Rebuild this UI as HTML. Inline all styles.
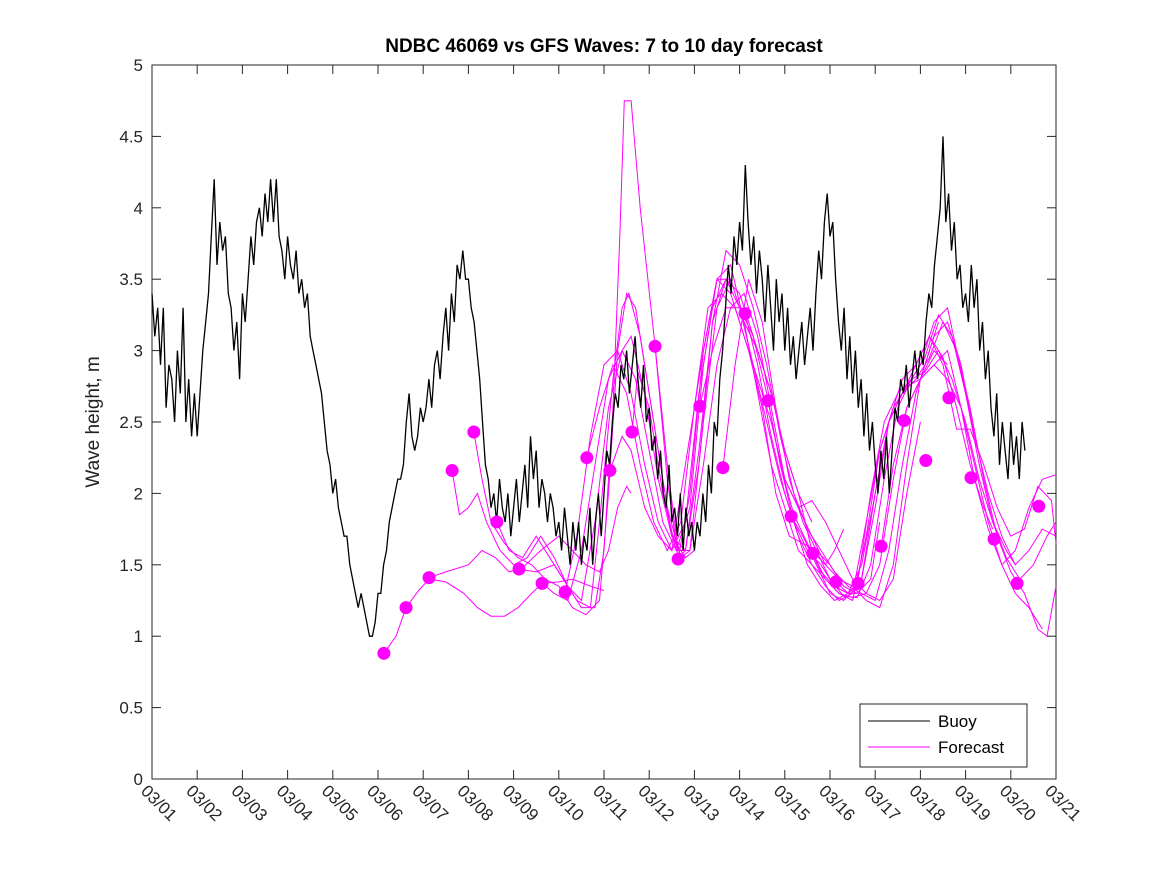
<!DOCTYPE html>
<html><head><meta charset="utf-8"><style>
body{margin:0;background:#fff;}
svg{display:block;font-family:"Liberation Sans","DejaVu Sans",sans-serif;}
</style></head><body>
<svg id="chart" width="1167" height="875" viewBox="0 0 1167 875" xmlns="http://www.w3.org/2000/svg">
<rect x="0" y="0" width="1167" height="875" fill="#fff"/>
<text x="604" y="52" text-anchor="middle" font-size="19" font-weight="bold" fill="#000">NDBC 46069 vs GFS Waves: 7 to 10 day forecast</text>
<text transform="translate(99,422) rotate(-90)" text-anchor="middle" font-size="19" fill="#222">Wave height, m</text>
<g id="plot"></g>
</svg>
<script>
const xTickLabels=["03/01","03/02","03/03","03/04","03/05","03/06","03/07","03/08","03/09","03/10","03/11","03/12","03/13","03/14","03/15","03/16","03/17","03/18","03/19","03/20","03/21"];
const yTicks=[0,0.5,1,1.5,2,2.5,3,3.5,4,4.5,5];
const buoyStep=0.0625;
const buoyValues=[3.4,3.1,3.3,2.9,3.3,2.6,2.9,2.8,2.5,3.0,2.7,3.3,2.5,2.8,2.4,2.7,
2.4,2.7,3.0,3.2,3.4,3.8,4.2,3.6,3.9,3.7,3.8,3.4,3.3,3.0,3.2,2.8,
3.4,3.2,3.5,3.8,3.6,3.9,4.0,3.8,4.1,3.9,4.2,3.9,4.2,3.8,3.7,3.5,
3.8,3.6,3.5,3.7,3.4,3.5,3.3,3.4,3.1,3.0,2.9,2.8,2.7,2.5,2.3,2.2,
2.0,2.1,1.9,1.8,1.7,1.7,1.5,1.4,1.3,1.2,1.3,1.2,1.1,1.0,1.0,1.1,
1.3,1.3,1.5,1.6,1.8,1.9,2.0,2.1,2.1,2.2,2.5,2.7,2.4,2.3,2.4,2.6,
2.5,2.6,2.8,2.6,2.9,3.0,2.8,3.1,3.3,3.0,3.4,3.2,3.6,3.5,3.7,3.5,
3.5,3.3,3.2,3.0,2.8,2.5,2.2,2.1,1.9,2.0,1.8,2.1,1.9,1.8,2.0,1.7,
1.9,2.1,1.8,2.0,2.2,1.9,2.4,2.1,2.3,1.9,2.1,2.0,1.8,2.0,1.9,1.7,
1.8,1.6,1.9,1.7,1.5,1.8,1.6,1.8,1.5,1.7,1.6,1.9,1.5,1.8,2.0,1.7,
2.0,2.3,2.2,2.5,2.7,2.6,2.9,2.8,3.0,2.7,2.9,3.1,2.8,2.6,2.9,2.5,
2.6,2.3,2.4,2.1,2.3,2.0,1.9,2.2,1.8,1.9,1.7,2.0,1.6,1.9,1.7,1.8,
1.6,1.8,1.7,2.0,1.8,2.2,2.0,2.5,2.4,2.8,3.0,3.3,3.6,3.4,3.8,3.6,
3.9,3.7,4.3,3.9,3.6,3.8,3.4,3.7,3.5,3.2,3.6,3.3,3.0,3.5,3.2,3.4,
3.0,3.3,2.9,3.1,2.8,3.0,3.2,2.9,3.1,3.3,3.0,3.4,3.7,3.5,3.9,4.1,
3.8,3.9,3.5,3.2,3.0,3.3,2.8,3.1,2.7,3.0,2.6,2.8,2.4,2.7,2.3,2.5,
2.2,2.0,2.3,2.1,2.4,2.0,2.3,2.6,2.5,2.8,2.7,2.9,2.6,2.8,3.0,2.8,
3.0,2.9,3.2,3.4,3.3,3.6,3.8,4.0,4.5,3.9,4.1,3.7,3.9,3.5,3.6,3.3,
3.4,3.2,3.6,3.3,3.5,3.0,3.2,2.8,3.0,2.6,2.4,2.7,2.2,2.5,2.3,2.1,
2.5,2.2,2.4,2.1,2.5,2.3];
const dotDays=[5.13,5.62,6.13,6.64,7.12,7.63,8.12,8.63,9.14,9.62,10.13,10.62,11.13,11.64,12.12,12.63,13.12,13.63,14.14,14.62,15.13,15.62,16.13,16.64,17.12,17.63,18.12,18.63,19.14,19.62];
const dotValues=[0.88,1.20,1.41,2.16,2.43,1.80,1.47,1.37,1.31,2.25,2.16,2.43,3.03,1.54,2.61,2.18,3.26,2.65,1.84,1.58,1.38,1.37,1.63,2.51,2.23,2.67,2.11,1.68,1.37,1.91];
const fcDays=[
[5.13,5.4,5.62,5.9,6.13,6.5,6.9,7.2,7.5,7.8,8.1,8.4,8.63,9.0,9.3,9.7,10.0],
[6.13,6.5,7.0,7.3,7.6,7.9,8.2,8.6,9.0,9.3,9.6,9.9,10.1,10.3,10.5,10.6],
[6.64,6.8,7.0,7.2,7.4,7.7,8.0,8.3,8.6,8.9,9.2,9.5,9.8,10.0,10.2,10.35,10.45,10.6,10.8,11.13,11.4,11.64,11.8],
[7.12,7.3,7.5,7.8,8.1,8.4,8.7,9.0,9.3,9.6,9.9,10.1,10.3,10.5,10.7,10.9,11.2,11.5,11.8,12.0],
[7.63,7.9,8.2,8.5,8.8,9.1,9.4,9.7,9.9,10.2,10.4,10.55,10.8,11.1,11.4,11.7,11.9,12.2,12.5,12.8],
[8.12,8.5,8.9,9.2,9.5,9.8,10.1,10.4,10.6,10.9,11.2,11.5,11.8,12.1,12.4,12.7,13.0,13.3,13.7,14.0,14.3,14.6],
[8.63,8.9,9.2,9.5,9.8,10.1,10.4,10.7,11.0,11.3,11.6,11.9,12.2,12.5,12.8,13.1,13.4,13.7,14.0,14.3,14.6,14.9,15.1,15.3],
[9.14,9.4,9.7,10.0,10.3,10.6,10.9,11.2,11.5,11.8,12.1,12.4,12.7,13.0,13.3,13.6,13.9,14.2,14.5,14.8,15.1,15.4,15.6],
[9.62,9.9,10.2,10.5,10.8,11.1,11.4,11.7,12.0,12.3,12.6,12.9,13.2,13.5,13.8,14.1,14.4,14.7,15.0,15.3,15.6,15.9,16.1],
[10.13,10.4,10.6,10.9,11.2,11.5,11.8,12.2,12.5,12.8,13.1,13.4,13.7,14.0,14.3,14.6,14.9,15.2,15.5,15.8,16.1,16.4,16.7,17.0],
[10.62,10.75,11.0,11.3,11.6,11.8,12.1,12.4,12.7,13.0,13.3,13.6,13.9,14.2,14.5,14.8,15.1,15.4,15.7,16.0,16.3,16.6,16.9,17.2,17.4],
[11.13,11.4,11.64,11.9,12.2,12.5,12.8,13.1,13.4,13.7,14.0,14.3,14.6,14.9,15.2,15.5,15.8,16.1,16.4,16.7,17.0,17.3,17.6],
[11.64,11.9,12.2,12.5,12.8,13.1,13.4,13.7,14.0,14.3,14.6,14.9,15.2,15.5,15.8,16.1,16.4,16.7,17.0,17.3,17.6,17.9,18.2],
[12.12,12.4,12.7,13.0,13.3,13.6,13.9,14.2,14.5,14.8,15.1,15.4,15.7,16.0,16.3,16.6,16.9,17.2,17.5,17.8,18.1,18.4,18.6],
[12.63,12.9,13.2,13.5,13.8,14.1,14.4,14.7,15.0,15.3,15.6,15.9,16.2,16.5,16.8,17.1,17.4,17.7,18.0,18.3,18.6,18.9,19.1],
[13.12,13.4,13.7,14.0,14.3,14.6,14.9,15.2,15.5,15.8,16.1,16.4,16.7,17.0,17.3,17.6,17.9,18.2,18.5,18.8,19.1,19.4,19.7],
[13.63,13.9,14.2,14.5,14.8,15.1,15.4,15.7,16.0,16.3,16.6,16.9,17.2,17.5,17.8,18.1,18.4,18.7,19.0,19.3,19.6,19.8,20.0],
[14.14,14.4,14.7,15.0,15.3,15.6,15.9,16.2,16.5,16.8,17.1,17.4,17.7,18.0,18.3,18.6,18.9,19.2,19.5,19.8,20.0],
[14.62,14.9,15.2,15.5,15.8,16.1,16.4,16.7,17.0,17.3,17.6,17.9,18.2,18.5,18.8,19.1,19.4,19.7,20.0],
[15.13,15.4,15.7,16.0,16.3,16.6,16.9,17.2,17.5,17.8,18.1,18.4,18.7,19.0,19.3,19.6,19.9,20.0],
[16.13,16.4,16.7,17.0,17.3,17.6,17.9,18.2,18.5,18.8,19.1,19.4,19.7,20.0]
];
const fcValues=[
[0.88,1.0,1.2,1.32,1.4,1.38,1.3,1.2,1.14,1.14,1.2,1.3,1.37,1.38,1.4,1.35,1.32],
[1.41,1.45,1.5,1.6,1.55,1.45,1.48,1.6,1.7,1.6,1.5,1.45,1.6,1.9,2.05,2.0],
[2.16,1.85,1.9,2.0,1.8,1.6,1.5,1.55,1.7,1.55,1.35,1.2,1.2,1.6,2.6,3.8,4.75,4.75,4.0,3.03,2.1,1.55,1.6],
[2.43,2.1,1.8,1.65,1.55,1.5,1.4,1.35,1.2,1.15,1.25,2.0,3.0,3.4,3.3,2.9,2.3,1.7,1.55,1.6],
[1.80,1.6,1.55,1.7,1.55,1.4,1.25,1.2,1.8,2.8,3.3,3.4,3.1,2.5,1.9,1.55,1.6,2.5,3.3,3.5],
[1.47,1.45,1.5,1.35,1.25,1.8,2.6,3.0,3.1,2.7,2.1,1.7,1.6,2.2,3.2,3.5,3.4,3.1,2.7,2.3,2.0,1.8],
[1.37,1.3,1.25,1.6,2.2,2.8,3.0,2.8,2.3,1.8,1.6,1.9,2.9,3.5,3.5,3.2,3.0,2.7,2.3,2.0,1.6,1.5,1.6,1.75],
[1.31,1.7,2.4,2.9,3.0,2.7,2.2,1.8,1.6,1.8,2.7,3.3,3.5,3.3,2.9,2.5,2.1,1.8,1.6,1.5,1.35,1.3,1.3],
[2.25,2.6,2.9,2.7,2.2,1.8,1.6,1.8,2.6,3.3,3.4,3.3,3.0,2.6,2.0,1.7,1.65,1.6,1.5,1.35,1.3,1.4,1.8],
[2.16,2.4,2.3,1.9,1.7,1.6,2.2,3.0,3.5,3.6,3.2,2.7,2.2,1.9,1.6,1.5,1.4,1.3,1.27,1.3,1.25,1.4,2.0,2.5],
[2.43,2.85,2.6,2.0,1.6,1.6,2.3,3.2,3.7,3.6,3.3,2.9,2.4,2.0,1.75,1.6,1.45,1.35,1.3,1.25,1.6,2.2,2.7,3.0,3.2],
[3.03,2.2,1.6,1.6,2.2,2.9,3.3,3.4,3.1,2.6,2.1,1.9,1.95,1.8,1.6,1.4,1.3,1.5,2.1,2.6,2.8,3.0,2.9],
[1.54,2.0,3.0,3.5,3.4,3.1,2.8,2.5,2.1,1.9,1.7,1.5,1.4,1.35,1.25,1.2,1.5,2.2,2.8,3.1,3.2,2.9,2.4],
[2.61,3.0,3.3,3.3,3.1,2.7,2.2,1.85,1.65,1.45,1.35,1.3,1.4,1.9,2.5,2.8,2.9,3.1,2.95,2.6,2.2,1.9,1.75],
[2.18,2.9,3.5,3.2,2.6,2.1,1.8,1.6,1.4,1.28,1.27,1.5,2.1,2.6,2.8,2.85,3.0,2.8,2.5,2.1,1.8,1.6,1.5],
[3.26,2.9,2.4,2.0,1.7,1.5,1.35,1.25,1.3,1.8,2.3,2.6,2.75,2.8,2.9,2.8,2.6,2.2,1.8,1.5,1.3,1.2,1.05],
[2.65,2.2,1.8,1.5,1.35,1.25,1.3,1.5,2.0,2.5,2.7,2.8,2.95,3.2,3.0,2.6,2.1,1.7,1.45,1.3,1.05,1.0,1.35],
[1.84,1.7,1.5,1.3,1.25,1.35,2.0,2.5,2.7,2.8,2.95,3.25,3.1,2.7,2.2,1.8,1.55,1.4,1.5,1.7,1.8],
[1.58,1.4,1.3,1.25,1.7,2.3,2.6,2.75,2.9,3.2,3.3,2.85,2.4,2.0,1.7,1.5,1.6,1.75,1.7],
[1.38,1.3,1.4,2.0,2.5,2.7,2.9,3.1,2.9,2.45,2.45,2.2,1.9,1.7,1.75,2.05,1.95,1.65],
[1.63,2.2,2.6,2.8,2.9,3.0,2.6,2.1,1.75,1.5,1.6,1.9,2.1,2.13]
];
const X0=152,X1=1056,Y0=779,Y1=65;
const xs=d=>X0+(X1-X0)*d/20;
const ys=v=>Y0-(Y0-Y1)*v/5;
const NS="http://www.w3.org/2000/svg";
const g=document.getElementById('plot');
function mk(t,a,p){const e=document.createElementNS(NS,t);for(const k in a)e.setAttribute(k,a[k]);(p||g).appendChild(e);return e;}
const box=mk('rect',{x:X0,y:Y1,width:X1-X0,height:Y0-Y1,fill:'none',stroke:'#262626','stroke-width':1});


yTicks.forEach(v=>{
 const y=ys(v);
 mk('line',{x1:X0,x2:X0+9,y1:y,y2:y,stroke:'#262626'});
 mk('line',{x1:X1,x2:X1-9,y1:y,y2:y,stroke:'#262626'});
 const t=mk('text',{x:X0-9,y:y+6,'text-anchor':'end','font-size':17,fill:'#262626'});
 t.textContent=String(v);
 
 
});
xTickLabels.forEach((lab,i)=>{
 const x=xs(i);
 mk('line',{x1:x,x2:x,y1:Y0,y2:Y0-9,stroke:'#262626'});
 mk('line',{x1:x,x2:x,y1:Y1,y2:Y1+9,stroke:'#262626'});
 const t=mk('text',{transform:`translate(${x-12},${Y0+13}) rotate(45)`,'font-size':17,fill:'#262626'});
 t.textContent=lab;
 
 
});
fcDays.forEach((days,i)=>{
 const pts=days.map((d,j)=>xs(d).toFixed(1)+','+ys(fcValues[i][j]).toFixed(1)).join(' ');
 const p=mk('polyline',{points:pts,fill:'none',stroke:'#ff00ff','stroke-width':1});
 
 
});
const bp=buoyValues.map((v,i)=>xs(i*buoyStep).toFixed(1)+','+ys(v).toFixed(1)).join(' ');
const bl=mk('polyline',{points:bp,fill:'none',stroke:'#000','stroke-width':1.3});


dotDays.forEach((d,i)=>{
 const c=mk('circle',{cx:xs(d),cy:ys(dotValues[i]),r:6.5,fill:'#ff00ff'});
 
 
});
const lg=mk('g',{});


mk('rect',{x:860,y:704,width:167,height:63,fill:'#fff',stroke:'#262626'},lg);
mk('line',{x1:868,x2:930,y1:721,y2:721,stroke:'#000'},lg);
const t1=mk('text',{x:938,y:727,'font-size':17,fill:'#000'},lg);t1.textContent='Buoy';


mk('line',{x1:868,x2:930,y1:747,y2:747,stroke:'#ff00ff'},lg);
const t2=mk('text',{x:938,y:753,'font-size':17,fill:'#000'},lg);t2.textContent='Forecast';


</script>
</body></html>
